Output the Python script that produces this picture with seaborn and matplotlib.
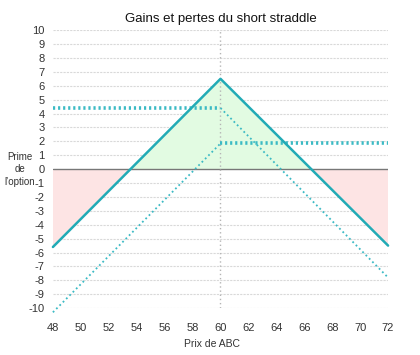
import numpy as np
import pandas as pd
import matplotlib
matplotlib.use("Agg")
import matplotlib.pyplot as plt
import matplotlib.transforms as mtransforms
import seaborn as sns

sns.set_style("white")
plt.rcParams["font.family"] = ["Liberation Sans", "DejaVu Sans"]
plt.rcParams["axes.unicode_minus"] = False

# ---- data ----
price = [48, 60, 72]
straddle = [-5.6, 6.5, -5.5]          # short straddle P&L
call_flat_x = [48, 60]
call_flat_y = [4.4, 4.4]
call_slope_x = [60, 72]
call_slope_y = [4.4, -7.8]
put_slope_x = [48, 60]
put_slope_y = [-10.3, 1.85]
put_flat_x = [60, 72]
put_flat_y = [1.85, 1.85]
strike = 60
x_ticks = list(range(48, 73, 2))
y_ticks = list(range(-10, 11))

teal = "#22abb6"
teal_dot = "#3bbac4"

fig = plt.figure(figsize=(4.2, 3.55), dpi=100)
ax = fig.add_axes([0.126, 0.132, 0.798, 0.783])

# grid
for yv in y_ticks:
    if yv != 0:
        ax.axhline(yv, color="#d9d9d9", lw=0.8, ls=(0, (2, 1)), zorder=0)
ax.axhline(0, color="#777777", lw=1.0, zorder=1)
ax.axvline(strike, color="#b5b5b5", lw=1.0, ls=(0, (1, 2)), zorder=1)

# fills
xs = np.array(price, dtype=float)
ys = np.array(straddle)
ax.fill_between(xs, 0, ys, where=ys > 0, interpolate=True, color="#e2fbe2", lw=0, zorder=0.5)
ax.fill_between(xs, 0, ys, where=ys < 0, interpolate=True, color="#fde4e4", lw=0, zorder=0.5)

# legs
sns.lineplot(x=call_flat_x, y=call_flat_y, ax=ax, color=teal_dot, lw=2.6, ls=(0, (0.6, 0.8)), zorder=3, clip_on=False)
sns.lineplot(x=put_flat_x, y=put_flat_y, ax=ax, color=teal_dot, lw=2.6, ls=(0, (0.6, 0.8)), zorder=3, clip_on=False)
sns.lineplot(x=call_slope_x, y=call_slope_y, ax=ax, color=teal_dot, lw=1.3, ls=(0, (1, 1.6)), zorder=3, clip_on=False)
sns.lineplot(x=put_slope_x, y=put_slope_y, ax=ax, color=teal_dot, lw=1.3, ls=(0, (1, 1.6)), zorder=3, clip_on=False)

# straddle
sns.lineplot(x=price, y=straddle, ax=ax, color=teal, lw=1.8, zorder=4, clip_on=False)

ax.set_xlim(48, 72)
ax.set_ylim(-10, 10)
ax.set_xticks(x_ticks)
ax.set_yticks(y_ticks)
ax.tick_params(axis="x", length=7, width=1.2, color="#bbbbbb", pad=4, labelsize=8, labelcolor="#333333")
ax.tick_params(axis="y", length=0, pad=6, labelsize=8, labelcolor="#333333")
for s in ax.spines.values():
    s.set_visible(False)

ax.set_title("Gains et pertes du short straddle", fontsize=9.5, color="#111111", pad=6)
ax.set_xlabel("Prix de ABC", fontsize=7.5, color="#333333")
ax.xaxis.set_label_coords(0.476, -0.11)
trans = mtransforms.blended_transform_factory(fig.transFigure, ax.transData)
ax.text(20 / 420, 0, "Prime\nde\nl\u2019option", transform=trans, ha="center", va="center",
        fontsize=7, color="#333333", linespacing=1.3)

fig.savefig("out.png", dpi=100)
